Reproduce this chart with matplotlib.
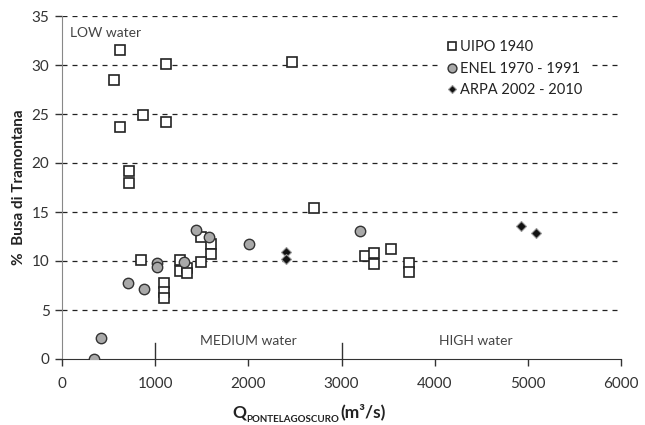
import matplotlib
matplotlib.use("Agg")
import matplotlib.pyplot as plt

plt.rcParams['font.family'] = ['Lato', 'DejaVu Sans']

# UIPO 1940
uipo_q = [622, 1116, 2468, 558, 869, 622, 1116, 719, 719, 2704, 848,
          1095, 1095, 1095, 1270, 1270, 1345, 1345, 1488, 1600, 1600, 1488,
          3251, 3348, 3348, 3527, 3727, 3727]
uipo_p = [31.5, 30.1, 30.3, 28.5, 24.9, 23.7, 24.2, 19.2, 18.0, 15.4, 10.1,
          7.8, 6.8, 6.2, 10.1, 9.0, 9.3, 8.8, 12.5, 11.7, 10.7, 9.9,
          10.5, 10.85, 9.7, 11.2, 9.8, 8.9]
# ENEL 1970 - 1991
enel_q = [343, 415, 705, 883, 1016, 1016, 1309, 1440, 1577, 2010, 3197]
enel_p = [0.0, 2.1, 7.8, 7.1, 9.8, 9.4, 9.9, 13.2, 12.4, 11.7, 13.1]
# ARPA 2002 - 2010
arpa_q = [2403, 2403, 4925, 5093]
arpa_p = [10.9, 10.2, 13.6, 12.9]

xticks = [0, 1000, 2000, 3000, 4000, 5000, 6000]
yticks = [0, 5, 10, 15, 20, 25, 30, 35]

fig = plt.figure(figsize=(6.45, 4.25), dpi=100)
ax = fig.add_axes([62/645, 66/425, 559/645, 343/425])

for y in yticks[1:]:
    ax.axhline(y, color='#222222', lw=0.9, ls=(0, (4, 4)), zorder=0)

ax.plot(uipo_q, uipo_p, ls='none', marker='s', ms=7, mfc='white',
        mec='#222222', mew=1.2, label='UIPO 1940', zorder=3)
ax.plot(enel_q, enel_p, ls='none', marker='o', ms=7.5, mfc='#a9a9a9',
        mec='#333333', mew=1.0, label='ENEL 1970 - 1991', zorder=4)
ax.plot(arpa_q, arpa_p, ls='none', marker='D', ms=5, mfc='#111111',
        mec='#999999', mew=0.8, label='ARPA 2002 - 2010', zorder=5)

# region separators
for xs in [1000, 3000]:
    ax.plot([xs, xs], [0, 1.6], color='#333333', lw=1.0, zorder=2)

ax.text(90, 33.3, 'LOW water', fontsize=10, color='#444444', va='center')
ax.text(2000, 1.8, 'MEDIUM water', fontsize=10, color='#444444', ha='center', va='center')
ax.text(4440, 1.8, 'HIGH water', fontsize=10, color='#444444', ha='center', va='center')

ax.set_xlim(0, 6000)
ax.set_ylim(0, 35)
ax.set_xticks(xticks)
ax.set_yticks(yticks)
ax.tick_params(axis='both', labelsize=11, labelcolor='#333333', color='#333333',
               direction='out', length=5, width=1.0)
ax.tick_params(axis='x', pad=8)
ax.tick_params(axis='y', pad=4)

for s in ['top', 'right']:
    ax.spines[s].set_visible(False)
ax.spines['left'].set_color('#888888')
ax.spines['bottom'].set_color('#333333')

# x label built from pieces (Q, subscript, units)
t1 = fig.text(232/645, 1 - 420/425, 'Q', fontsize=12.5, fontweight='bold',
              color='#222222', ha='left', va='bottom')
t2 = ax.annotate('PONTELAGOSCURO', xy=(1, 0), xycoords=t1, xytext=(0.5, -3),
                 textcoords='offset points', fontsize=7, fontweight='bold',
                 color='#222222', ha='left', va='bottom', annotation_clip=False)
t3 = ax.annotate('(m\u00b3/s)', xy=(1, 0), xycoords=t2, xytext=(0.5, 3),
                 textcoords='offset points', fontsize=12.5, fontweight='bold',
                 color='#222222', ha='left', va='bottom', annotation_clip=False)

ax.set_ylabel('%  Busa di Tramontana', fontsize=11, fontweight='bold', color='#222222', labelpad=4)

leg = ax.legend(loc='upper left', bbox_to_anchor=(0.676, 0.946), frameon=True,
                fontsize=10.5, handletextpad=0.2, handlelength=0.8,
                labelspacing=0.5, borderaxespad=0, markerscale=0.85,
                fancybox=False, framealpha=1)
leg.get_frame().set_facecolor('white')
leg.get_frame().set_edgecolor('none')
for t in leg.get_texts():
    t.set_color('#222222')

fig.savefig('out.png', dpi=100)
